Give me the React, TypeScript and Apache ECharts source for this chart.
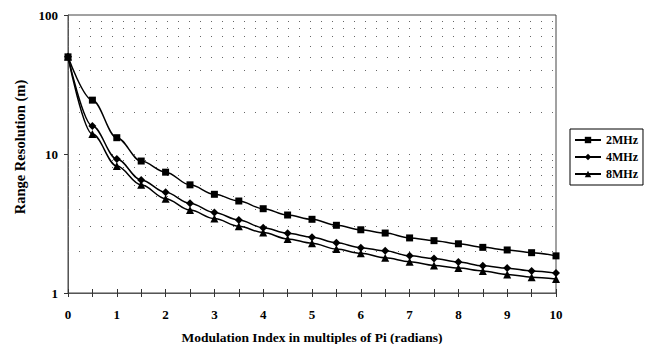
import React, { useEffect, useRef } from "react";
import * as echarts from "echarts";

const xValues = [0, 0.5, 1, 1.5, 2, 2.5, 3, 3.5, 4, 4.5, 5, 5.5, 6, 6.5, 7, 7.5, 8, 8.5, 9, 9.5, 10];
const mhz2 = [50, 24.4, 13.1, 8.9, 7.4, 6.0, 5.13, 4.59, 4.04, 3.64, 3.39, 3.07, 2.85, 2.7, 2.49, 2.38, 2.26, 2.13, 2.04, 1.95, 1.85];
const mhz4 = [50, 15.9, 9.2, 6.5, 5.3, 4.42, 3.79, 3.35, 2.95, 2.69, 2.52, 2.3, 2.12, 2.01, 1.85, 1.77, 1.67, 1.57, 1.51, 1.44, 1.39];
const mhz8 = [50, 13.9, 8.2, 6.0, 4.77, 3.95, 3.43, 3.02, 2.72, 2.45, 2.28, 2.07, 1.93, 1.79, 1.68, 1.58, 1.51, 1.44, 1.36, 1.3, 1.26];
const seriesNames = ["2MHz", "4MHz", "8MHz"];
const gridValues = [2, 3, 4, 5, 6, 7, 8, 9, 10, 20, 30, 40, 50, 60, 70, 80, 90];
const xTitle = "Modulation Index in multiples of Pi (radians)";
const yTitle = "Range Resolution (m)";

const FONT = "'Liberation Serif', 'Times New Roman', serif";

export default function App() {
  const ref = useRef<HTMLDivElement>(null);
  useEffect(() => {
    if (!ref.current) return;
    const chart = echarts.init(ref.current, undefined, { renderer: "svg" });
    const mk = (name: string, vals: number[], symbol: string, size: number, withGrid: boolean) => {
      const s: any = {
        name,
        type: "line",
        data: xValues.map((x, i) => [x, vals[i]]),
        symbol,
        symbolSize: size,
        smooth: 0.35,
        smoothMonotone: "x",
        lineStyle: { color: "#000", width: 1.5 },
        itemStyle: { color: "#000" },
        z: 5,
      };
      if (withGrid) {
        s.markLine = {
          silent: true,
          symbol: ["none", "none"],
          label: { show: false },
          lineStyle: { color: "#666", type: [1, 10], width: 1 },
          data: gridValues.map((v) => ({ yAxis: v })),
          z: 1,
        };
      }
      return s;
    };
    chart.setOption({
      animation: false,
      backgroundColor: "#fff",
      textStyle: { fontFamily: FONT },
      grid: {
        left: 68,
        right: 95,
        top: 15,
        bottom: 51,
        containLabel: false,
        outerBoundsMode: "none",
        show: true,
        borderColor: "#444",
        borderWidth: 1,
      },
      legend: {
        orient: "vertical",
        left: 570,
        top: 129,
        borderColor: "#000",
        borderWidth: 1,
        padding: [5, 5, 5, 4],
        itemGap: 5,
        itemWidth: 26,
        itemHeight: 8,
        textStyle: { fontFamily: FONT, fontWeight: "bold", fontSize: 12, color: "#000" },
        data: seriesNames,
      },
      xAxis: [
        {
          type: "value",
          min: 0,
          max: 10,
          interval: 1,
          name: xTitle,
          nameLocation: "middle",
          nameGap: 37,
          nameTextStyle: { fontFamily: FONT, fontWeight: "bold", fontSize: 13.5, color: "#000" },
          axisLine: { lineStyle: { color: "#555", width: 1 } },
          axisTick: { show: true, length: 4, lineStyle: { color: "#333" } },
          minorTick: { show: true, splitNumber: 2, length: 4, lineStyle: { color: "#333" } },
          splitLine: { show: false },
          axisLabel: { fontFamily: FONT, fontWeight: "bold", fontSize: 13, color: "#000", margin: 15 },
        },
        {
          type: "value",
          min: 0,
          max: 10,
          interval: 1,
          position: "bottom",
          axisLine: { show: false },
          axisTick: { show: true, inside: true, length: 4, lineStyle: { color: "#333" } },
          minorTick: { show: true, splitNumber: 2, length: 4, lineStyle: { color: "#333" } },
          splitLine: { show: false },
          axisLabel: { show: false },
        },
      ],
      yAxis: [
        {
          type: "log",
          logBase: 10,
          min: 1,
          max: 100,
          name: yTitle,
          nameLocation: "middle",
          nameGap: 38,
          nameTextStyle: { fontFamily: FONT, fontWeight: "bold", fontSize: 14.5, color: "#000", padding: [0, 0, 0, 14] },
          axisLine: { show: true, lineStyle: { color: "#555", width: 1 } },
          axisTick: { show: true, length: 4, lineStyle: { color: "#333" } },
          splitLine: { show: false },
          axisLabel: { fontFamily: FONT, fontWeight: "bold", fontSize: 13, color: "#000", margin: 10 },
        },
      ],
      series: [
        mk(seriesNames[0], mhz2, "rect", 7, true),
        mk(seriesNames[1], mhz4, "diamond", 8, false),
        mk(seriesNames[2], mhz8, "triangle", 8, false),
      ],
    });
    return () => chart.dispose();
  }, []);
  return (
    <div
      ref={ref}
      style={{ position: "fixed", left: 0, top: 0, width: 651, height: 344, background: "#fff" }}
    />
  );
}
